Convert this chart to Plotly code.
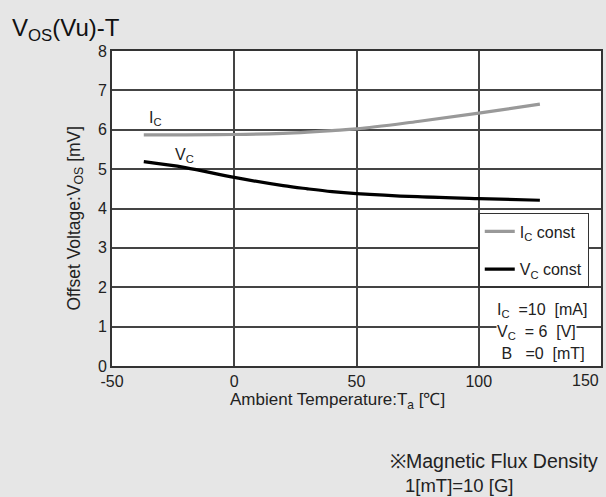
import plotly.graph_objects as go

# Data
temp_ic = [-37, -20, 0, 20, 30, 40, 50, 75, 100, 125]
vos_ic = [5.87, 5.87, 5.88, 5.91, 5.94, 5.98, 6.02, 6.21, 6.42, 6.65]

temp_vc = [-37, -20, 0, 20, 30, 40, 50, 75, 100, 125]
vos_vc = [5.19, 5.04, 4.79, 4.58, 4.50, 4.43, 4.38, 4.30, 4.25, 4.21]

x_ticks = [-50, 0, 50, 100, 150]
x_ticktext = ["-50", "0", "50", "100", ""]
y_ticks = [0, 1, 2, 3, 4, 5, 6, 7, 8]

FONT = "Liberation Sans, Arial, Helvetica, sans-serif"
SP = "&nbsp;"

fig = go.Figure()
fig.add_trace(go.Scatter(
    x=temp_ic, y=vos_ic, mode="lines", line=dict(color="#999999", width=3.2, shape="spline"),
    name="I<sub>C</sub> const", legendgroup="ic"))
fig.add_trace(go.Scatter(
    x=temp_vc, y=vos_vc, mode="lines", line=dict(color="#000000", width=3.2, shape="spline"),
    name="V<sub>C</sub> const", legendgroup="vc"))

fig.update_layout(
    width=606, height=497,
    paper_bgcolor="#e6e6e6", plot_bgcolor="#ffffff",
    margin=dict(l=112, r=3, t=51, b=131),
    font=dict(family=FONT, size=16, color="#222222"),
    showlegend=True,
    legend=dict(x=0.749, y=0.486, xanchor="left", yanchor="top",
                bgcolor="#ffffff", bordercolor="#333333", borderwidth=1.5,
                font=dict(size=16, color="#222222"), tracegroupgap=14,
                itemwidth=30, traceorder="grouped"),
)
fig.update_xaxes(range=[-50, 150], tickvals=x_ticks, ticktext=x_ticktext,
                 showgrid=True, gridcolor="#444444", gridwidth=1.5,
                 showline=True, linecolor="#333333", linewidth=2, mirror=True,
                 ticks="", zeroline=False, tickfont=dict(size=16),
                 title=dict(text="Ambient Temperature:T<sub>a</sub> [\u2103]" + SP * 8,
                            font=dict(size=17), standoff=3))
fig.update_yaxes(range=[0, 8], tickvals=y_ticks,
                 showgrid=True, gridcolor="#444444", gridwidth=1.5,
                 showline=True, linecolor="#333333", linewidth=2, mirror=True,
                 ticks="", zeroline=False, tickfont=dict(size=16),
                 title=dict(text="Offset Voltage:V<sub>OS</sub> [mV]" + SP * 4,
                            font=dict(size=17.5), standoff=13))

# 150 tick label, shifted inside the window like the reference
fig.add_annotation(x=150, y=0, xref="x", yref="y", text="150", showarrow=False,
                   xanchor="right", yanchor="top", yshift=-4, font=dict(size=16))

# curve labels
fig.add_annotation(x=-37, y=6.0, xref="x", yref="y", text="I<sub>C</sub>", showarrow=False,
                   xanchor="left", yanchor="bottom", xshift=3, font=dict(size=16))
fig.add_annotation(x=-25, y=5.05, xref="x", yref="y", text="V<sub>C</sub>", showarrow=False,
                   xanchor="left", yanchor="bottom", font=dict(size=16))

# conditions
cond = [("I<sub>C</sub>&nbsp;&nbsp;=10&nbsp;&nbsp;[mA]", 0.177),
        ("V<sub>C</sub>&nbsp;&nbsp;=&nbsp;6&nbsp;&nbsp;[V]", 0.105),
        ("&nbsp;B&nbsp;&nbsp;&nbsp;=0&nbsp;&nbsp;[mT]", 0.04)]
for txt, yy in cond:
    fig.add_annotation(x=0.785, y=yy, xref="paper", yref="paper", text=txt, showarrow=False,
                       xanchor="left", yanchor="middle", bgcolor="#ffffff", borderpad=0,
                       font=dict(size=16))

# chart title
fig.add_annotation(x=-0.208, y=1.068, xref="paper", yref="paper", xanchor="left", yanchor="middle",
                   text="V<sub>OS</sub>(Vu)-T", showarrow=False, font=dict(size=24, color="#111111"))

# note
fig.add_annotation(x=0.565, y=-0.30, xref="paper", yref="paper", xanchor="left", yanchor="middle",
                   text="\u203bMagnetic Flux Density", showarrow=False, font=dict(size=19.5))
fig.add_annotation(x=0.595, y=-0.378, xref="paper", yref="paper", xanchor="left", yanchor="middle",
                   text="1[mT]=10 [G]", showarrow=False, font=dict(size=18.5))

fig.write_html("out.html", config={"displayModeBar": False},
               post_script="document.body.style.margin='0';document.body.style.overflow='hidden';")
